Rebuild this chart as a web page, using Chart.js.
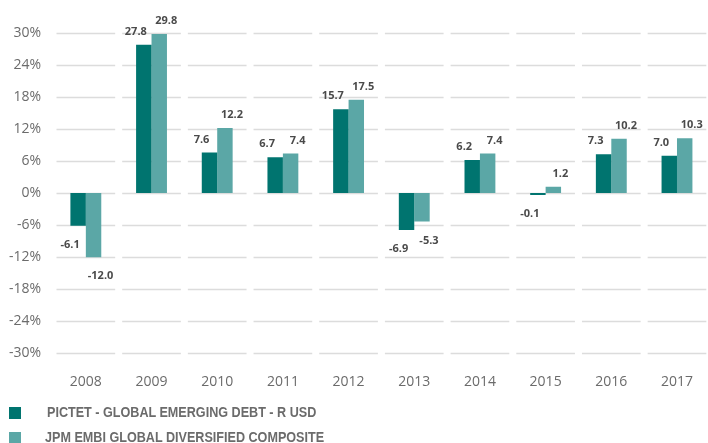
<!DOCTYPE html>
<html>
<head>
<meta charset="utf-8">
<script src="https://cdn.jsdelivr.net/npm/chart.js@4"></script>
<style>
  html, body { margin: 0; padding: 0; background: #fff; overflow: hidden; }
  .chart__wrapper { position: relative; width: 713px; height: 410px; }
  .legend { position: absolute; left: 0; top: 0; font-family: "Liberation Sans", sans-serif; font-weight: bold; font-size: 14px; color: #6b6b6b; }
  .legend__item { position: absolute; white-space: nowrap; transform: scaleX(0.9); transform-origin: left center; }
  .legend__box { position: absolute; width: 12px; height: 12px; }
</style>
</head>
<body>
<div class="chart__wrapper">
  <canvas id="returns-bar-chart"></canvas>
</div>
<div class="legend">
  <div class="legend__box" style="left: 9px; top: 407px; background: #00746f;"></div>
  <div class="legend__item" style="left: 47px; top: 404px;">PICTET - GLOBAL EMERGING DEBT - R USD</div>
  <div class="legend__box" style="left: 9px; top: 432px; background: #5ba7a6;"></div>
  <div class="legend__item" style="left: 45px; top: 429px;">JPM EMBI GLOBAL DIVERSIFIED COMPOSITE</div>
</div>
<script>
  const years = ["2008", "2009", "2010", "2011", "2012", "2013", "2014", "2015", "2016", "2017"];
  const pictetValues = [-6.1, 27.8, 7.6, 6.7, 15.7, -6.9, 6.2, -0.1, 7.3, 7.0];
  const jpmValues = [-12.0, 29.8, 12.2, 7.4, 17.5, -5.3, 7.4, 1.2, 10.2, 10.3];
  const seriesNames = ["PICTET - GLOBAL EMERGING DEBT - R USD", "JPM EMBI GLOBAL DIVERSIFIED COMPOSITE"];

  const colors = {
    dark: "#00746f",
    light: "#5ba7a6",
    grid: "#dcdcdc",
    text: "#6b6b6b",
    label: "#4a4a4a",
  };

  // grid lines broken into one segment per category
  const segmentedGrid = {
    id: "segmentedGrid",
    beforeDatasetsDraw(chart) {
      const ctx = chart.ctx;
      const x = chart.scales.x;
      const y = chart.scales.y;
      const half = (x.getPixelForValue(1) - x.getPixelForValue(0)) / 2 - 3.5;
      ctx.save();
      ctx.strokeStyle = colors.grid;
      ctx.lineWidth = 1.5;
      y.ticks.forEach((t) => {
        const py = Math.round(y.getPixelForValue(t.value)) + 0.5;
        years.forEach((yr, i) => {
          const cx = x.getPixelForValue(i);
          ctx.beginPath();
          ctx.moveTo(cx - half, py);
          ctx.lineTo(cx + half, py);
          ctx.stroke();
        });
      });
      ctx.restore();
    },
  };

  const valueLabels = {
    id: "valueLabels",
    afterDatasetsDraw(chart) {
      const ctx = chart.ctx;
      ctx.save();
      ctx.font = "bold 11px 'Open Sans'";
      ctx.fillStyle = colors.label;
      ctx.textAlign = "center";
      ctx.textBaseline = "middle";
      chart.data.datasets.forEach((ds, di) => {
        chart.getDatasetMeta(di).data.forEach((bar, i) => {
          const v = ds.data[i];
          const dx = di === 0 ? -8 : 7;
          const py = v >= 0 ? bar.y - 13 : bar.y + 19;
          ctx.fillText(v.toFixed(1), bar.x + dx, py);
        });
      });
      ctx.restore();
    },
  };

  const ctx = document.getElementById("returns-bar-chart").getContext("2d");
  new Chart(ctx, {
    type: "bar",
    data: {
      labels: years,
      datasets: [
        {
          label: seriesNames[0],
          data: pictetValues,
          backgroundColor: colors.dark,
          borderWidth: 0,
          minBarLength: 2,
        },
        {
          label: seriesNames[1],
          data: jpmValues,
          backgroundColor: colors.light,
          borderWidth: 0,
        },
      ],
    },
    options: {
      responsive: true,
      maintainAspectRatio: false,
      animation: false,
      layout: { padding: { top: 33, right: 0, bottom: 0, left: 0 } },
      datasets: { bar: { categoryPercentage: 0.47, barPercentage: 1 } },
      scales: {
        x: {
          grid: { display: false, drawTicks: false },
          border: { display: false },
          ticks: {
            color: colors.text,
            font: { family: "Open Sans", size: 14 },
            padding: 20,
          },
        },
        y: {
          min: -30,
          max: 30,
          grid: { display: false, drawTicks: false },
          border: { display: false },
          afterFit: (scale) => { scale.width = 53; },
          ticks: {
            stepSize: 6,
            color: colors.text,
            padding: 12,
            font: { family: "Open Sans", size: 14 },
            callback: (v) => v + "%",
          },
        },
      },
      plugins: {
        legend: { display: false },
        title: { display: false },
        tooltip: { enabled: false },
      },
    },
    plugins: [segmentedGrid, valueLabels],
  });
</script>
</body>
</html>
